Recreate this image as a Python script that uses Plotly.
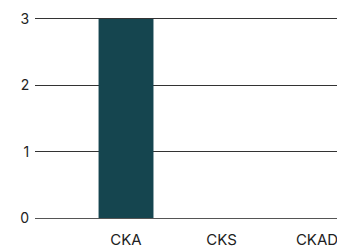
import plotly.graph_objects as go

categories = ["CKA", "CKS", "CKAD"]
values = [3, 0, 0]
y_ticks = [0, 1, 2, 3]

fig = go.Figure(go.Bar(x=categories, y=values, marker=dict(color="#15454f", line=dict(width=0)), width=0.575))

fig.update_layout(
    width=337, height=241,
    margin=dict(l=27, r=0, t=9, b=31),
    paper_bgcolor="white", plot_bgcolor="white",
    font=dict(family="Inter, sans-serif", size=14, color="#222"),
    showlegend=False,
)
fig.update_xaxes(type="category", range=[-0.953, 2.293], showgrid=False, showline=False, zeroline=False,
                 ticks="outside", ticklen=8, tickcolor="rgba(0,0,0,0)", tickfont=dict(size=15))
fig.update_yaxes(range=[0, 3.03], tickvals=y_ticks, showgrid=True, gridcolor="#333", gridwidth=1,
                 zeroline=True, zerolinecolor="#555", zerolinewidth=1, showline=False,
                 ticks="outside", ticklen=2, tickcolor="rgba(0,0,0,0)", tickfont=dict(size=14))

fig.write_html("out.html")
